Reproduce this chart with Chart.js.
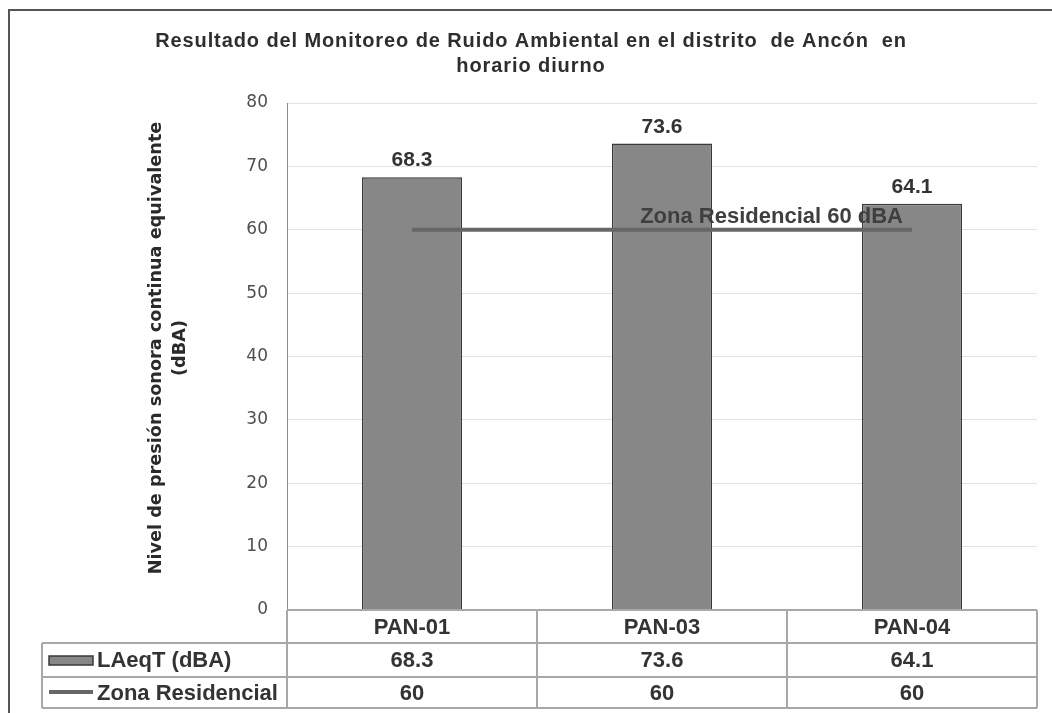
<!DOCTYPE html>
<html>
<head>
<meta charset="utf-8">
<script src="https://cdn.jsdelivr.net/npm/chart.js@4/dist/chart.umd.min.js"></script>
<style>
  html, body { margin: 0; padding: 0; background: #fff; }
  #wrap { width: 1052px; height: 713px; position: relative; }
</style>
</head>
<body>
<div id="wrap"><canvas id="c" width="1052" height="713"></canvas></div>
<script>
// ---- Data ----
const categories = ["PAN-01", "PAN-03", "PAN-04"];
const laeqValues = [68.3, 73.6, 64.1];
const zonaValues = [60, 60, 60];
const seriesNames = ["LAeqT (dBA)", "Zona Residencial"];
const lineLabel = "Zona Residencial 60 dBA";
const titleLines = ["Resultado del Monitoreo de Ruido Ambiental en el distrito  de Ancón  en", "horario diurno"];
const yTitleLines = ["Nivel de presión sonora continua equivalente", "(dBA)"];
const yMin = 0, yMax = 80, yStep = 10;

const BAR_FILL = "#878787";
const BAR_EDGE = "#3a3a3a";
const LINE_COL = "#666666";
const TEXT_COL = "#333333";
const TABLE_LINE = "#a8a8a8";
const BOLD = "bold 22px 'Liberation Sans', Arial, sans-serif";

function fmt(v) { return String(v); }

const decor = {
  id: "decor",
  beforeDraw(chart) {
    const ctx = chart.ctx;
    ctx.save();
    ctx.fillStyle = "#fff";
    ctx.fillRect(0, 0, chart.width, chart.height);
    ctx.strokeStyle = "#555";
    ctx.lineWidth = 2;
    ctx.beginPath();
    ctx.moveTo(9, chart.height);
    ctx.lineTo(9, 10);
    ctx.lineTo(chart.width, 10);
    ctx.stroke();
    ctx.restore();
  },
  afterDatasetsDraw(chart) {
    const ctx = chart.ctx;
    const ca = chart.chartArea;
    const x = chart.scales.x, y = chart.scales.y;
    ctx.save();

    // bar value labels
    const barMeta = chart.getDatasetMeta(0);
    ctx.font = "bold 21px 'Liberation Sans', Arial, sans-serif";
    ctx.fillStyle = TEXT_COL;
    ctx.textAlign = "center";
    ctx.textBaseline = "alphabetic";
    barMeta.data.forEach((el, i) => {
      ctx.fillText(fmt(laeqValues[i]), el.x, el.y - 11);
    });

    // line label
    const lineMeta = chart.getDatasetMeta(1);
    const last = lineMeta.data[lineMeta.data.length - 1];
    ctx.font = BOLD;
    ctx.fillStyle = "#3f3f3f";
    ctx.textAlign = "right";
    ctx.fillText(lineLabel, last.x - 9, last.y - 7);

    // title
    ctx.fillStyle = "#2e2e2e";
    ctx.textAlign = "center";
    ctx.textBaseline = "alphabetic";
    ctx.font = "bold 20px 'Liberation Sans', Arial, sans-serif";
    const target = 752;
    const w0 = ctx.measureText(titleLines[0]).width;
    const ls = Math.max(0, (target - w0) / titleLines[0].length);
    try { ctx.letterSpacing = ls.toFixed(2) + "px"; } catch (e) {}
    ctx.fillText(titleLines[0], 531, 47);
    ctx.fillText(titleLines[1], 531, 72);
    try { ctx.letterSpacing = "0px"; } catch (e) {}

    // y axis title
    ctx.save();
    ctx.font = "bold 16px 'DejaVu Sans', Verdana, sans-serif";
    const wy = ctx.measureText(yTitleLines[0]).width;
    const fs = 16 * 453 / wy;
    ctx.font = "bold " + fs.toFixed(2) + "px 'DejaVu Sans', Verdana, sans-serif";
    ctx.fillStyle = "#2a2a2a";
    ctx.textAlign = "center";
    ctx.textBaseline = "middle";
    ctx.translate(156, 348);
    ctx.rotate(-Math.PI / 2);
    ctx.fillText(yTitleLines[0], 0, 0);
    ctx.fillText(yTitleLines[1], 0, 24);
    ctx.restore();

    // data table
    const n = categories.length;
    const centers = categories.map((_, i) => x.getPixelForValue(i));
    const bounds = [ca.left];
    for (let i = 0; i < n - 1; i++) bounds.push((centers[i] + centers[i + 1]) / 2);
    bounds.push(ca.right);
    const r0 = ca.bottom, r1 = 643, r2 = 677, r3 = 708;
    const tLeft = 42;

    ctx.strokeStyle = TABLE_LINE;
    ctx.lineWidth = 2;
    ctx.beginPath();
    ctx.moveTo(bounds[0], r0); ctx.lineTo(bounds[n], r0);
    [r1, r2, r3].forEach(r => { ctx.moveTo(tLeft, r); ctx.lineTo(bounds[n], r); });
    bounds.forEach(b => { ctx.moveTo(b, r0); ctx.lineTo(b, r3); });
    ctx.moveTo(tLeft, r1); ctx.lineTo(tLeft, r3);
    ctx.stroke();

    ctx.font = BOLD;
    ctx.fillStyle = TEXT_COL;
    ctx.textAlign = "center";
    ctx.textBaseline = "middle";
    categories.forEach((c, i) => ctx.fillText(c, centers[i], (r0 + r1) / 2 + 1));
    laeqValues.forEach((v, i) => ctx.fillText(fmt(v), centers[i], (r1 + r2) / 2 + 1));
    zonaValues.forEach((v, i) => ctx.fillText(fmt(v), centers[i], (r2 + r3) / 2 + 1));

    // legend keys in table
    ctx.fillStyle = BAR_FILL;
    ctx.fillRect(49, 656, 44, 9);
    ctx.strokeStyle = BAR_EDGE;
    ctx.lineWidth = 1.5;
    ctx.strokeRect(49, 656, 44, 9);
    ctx.strokeStyle = LINE_COL;
    ctx.lineWidth = 4;
    ctx.beginPath();
    ctx.moveTo(49, 692); ctx.lineTo(93, 692);
    ctx.stroke();

    ctx.fillStyle = TEXT_COL;
    ctx.textAlign = "left";
    ctx.fillText(seriesNames[0], 97, (r1 + r2) / 2 + 1);
    ctx.fillText(seriesNames[1], 97, (r2 + r3) / 2 + 1);

    ctx.restore();
  }
};

new Chart(document.getElementById("c"), {
  data: {
    labels: categories,
    datasets: [
      {
        type: "bar",
        label: seriesNames[0],
        data: laeqValues,
        backgroundColor: BAR_FILL,
        borderColor: BAR_EDGE,
        borderWidth: 1.5,
        barPercentage: 0.8,
        categoryPercentage: 0.5,
        order: 2
      },
      {
        type: "line",
        label: seriesNames[1],
        data: zonaValues,
        borderColor: LINE_COL,
        borderWidth: 4,
        pointRadius: 0,
        fill: false,
        order: 1
      }
    ]
  },
  options: {
    responsive: false,
    animation: false,
    layout: { padding: { top: 103, bottom: 103, left: 0, right: 15 } },
    plugins: { legend: { display: false }, title: { display: false }, tooltip: { enabled: false } },
    scales: {
      x: { display: false, offset: true },
      y: {
        min: yMin, max: yMax,
        afterFit(scale) { scale.width = 287; },
        border: { display: true, color: "#8a8a8a", width: 1 },
        grid: { color: "#e2e2e2", lineWidth: 1, drawTicks: false },
        ticks: {
          stepSize: yStep,
          padding: 19,
          color: "#4f4f4f",
          font: { family: "'DejaVu Sans', Verdana, sans-serif", size: 17 }
        }
      }
    }
  },
  plugins: [decor]
});
</script>
</body>
</html>
